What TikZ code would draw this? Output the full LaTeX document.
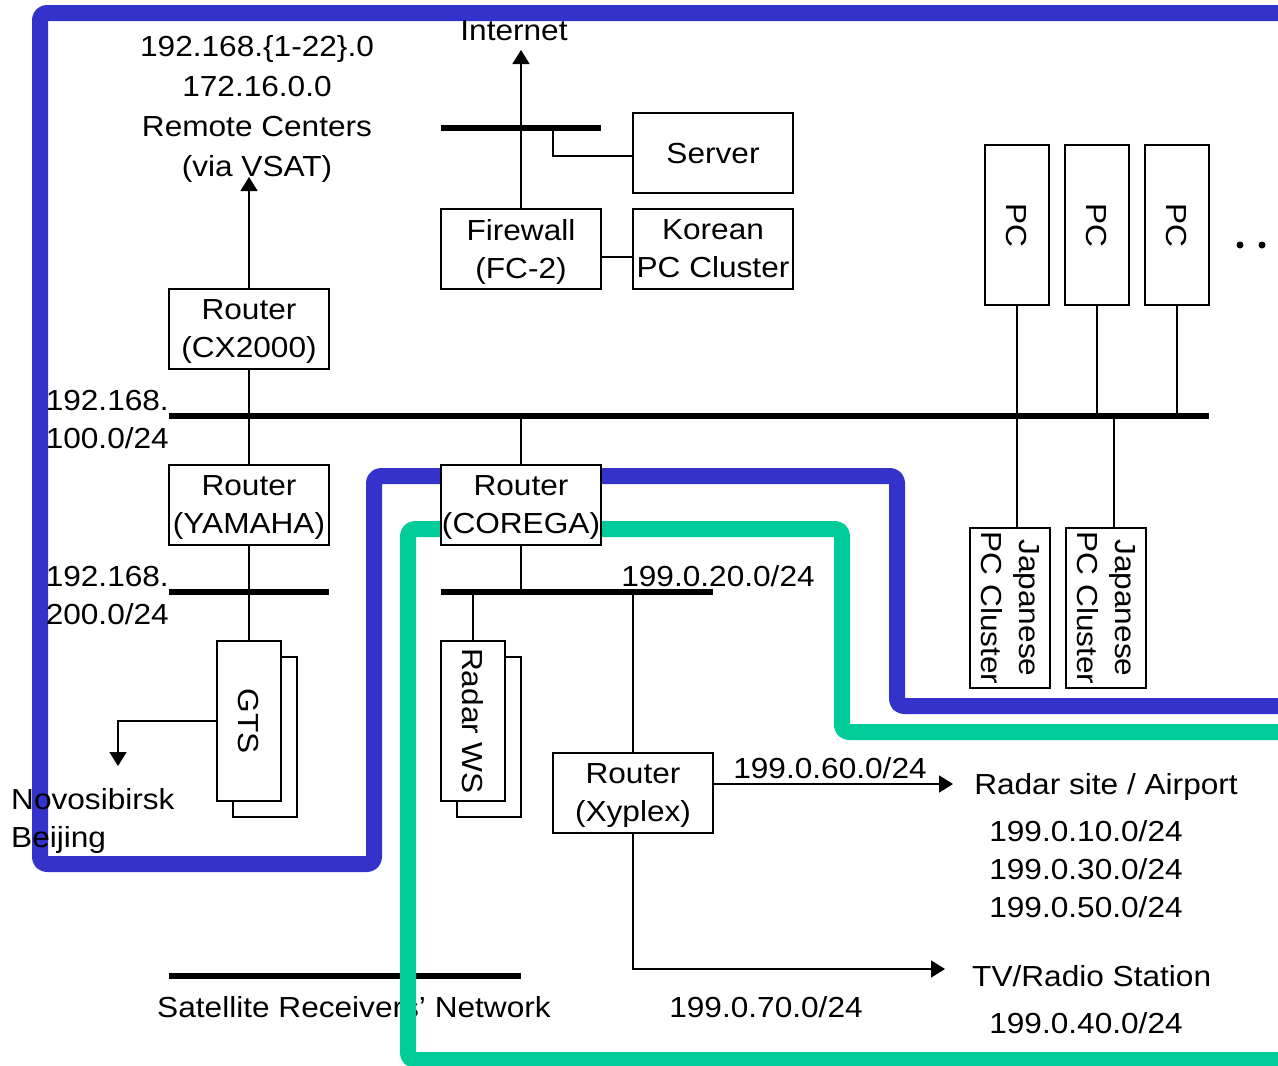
\documentclass[tikz,border=0pt]{standalone}
\usepackage{fontspec}
\setmainfont{Liberation Sans}[FakeStretch=1.09]
\usetikzlibrary{arrows.meta}
\definecolor{lanblue}{RGB}{51,51,204}
\definecolor{langreen}{RGB}{0,204,153}
\begin{document}
\begin{tikzpicture}[x=1pt,y=-1pt,
  font=\fontsize{29}{38}\selectfont,
  every node/.style={inner sep=0pt},
  box/.style={draw, line width=1.8pt, fill=white, inner sep=0pt, minimum width=160pt, minimum height=80pt, align=center, text depth=-7pt},
  vbox/.style={box, rotate=-90, minimum width=160pt, minimum height=64pt, text depth=0pt},
  bus/.style={line width=5.5pt},
  wire/.style={line width=1.6pt},
  arr/.style={wire, -{Triangle[width=17pt,length=14pt]}},
  lan/.style={line width=16pt, rounded corners=7pt, line join=round}]
\useasboundingbox (0,0) rectangle (1278,1066);
% satellite receivers' network (under the green line)
\coordinate (sb1) at (169,976);
\coordinate (sb2) at (521,976);
\draw[bus] (sb1) -- (sb2);
\node (sat) at (354,1007) {Satellite Receivers’ Network};
% LAN outlines
\draw[lan, lanblue] (1295,13) -- (40,13) -- (40,864) -- (374,864) -- (374,476) -- (897,476) -- (897,706) -- (1295,706);
\draw[lan, langreen] (1295,732) -- (842,732) -- (842,529) -- (408,529) -- (408,1060) -- (1295,1060);
% buses
\coordinate (ib1) at (441,128);
\coordinate (ib2) at (601,128);
\coordinate (mb1) at (169,416);
\coordinate (mb2) at (1209,416);
\coordinate (yb1) at (169,592);
\coordinate (yb2) at (329,592);
\coordinate (rb1) at (441,592);
\coordinate (rb2) at (713,592);
\draw[bus] (ib1) -- (ib2);
\draw[bus] (mb1) -- (mb2);
\draw[bus] (yb1) -- (yb2);
\draw[bus] (rb1) -- (rb2);
% boxes
\node[box] (cx) at (249,329) {Router\\(CX2000)};
\node[box] (yam) at (249,505) {Router\\(YAMAHA)};
\node[box] (cor) at (521,505) {Router\\(COREGA)};
\node[box] (fw) at (521,249) {Firewall\\(FC-2)};
\node[box] (srv) at (713,153) {Server};
\node[box] (kor) at (713,249) {Korean\\PC Cluster};
\node[box] (xyp) at (633,793) {Router\\(Xyplex)};
\node[vbox] (pc1) at (1017,225) {PC};
\node[vbox] (pc2) at (1097,225) {PC};
\node[vbox] (pc3) at (1177,225) {PC};
\node[vbox, minimum height=80pt] (jp1) at (1010,608) {Japanese\\PC Cluster};
\node[vbox, minimum height=80pt] (jp2) at (1106,608) {Japanese\\PC Cluster};
\node[vbox] (gtsb) at (265,737) {};
\node[vbox] (gts) at (249,721) {GTS};
\node[vbox] (rwsb) at (489,737) {};
\node[vbox] (rws) at (473,721) {Radar WS};
% arrow targets
\coordinate (inettip) at (521,50);
\coordinate (vsattip) at (249,177);
\coordinate (radartip) at (953,784);
\coordinate (tvtip) at (945,969);
\coordinate (nbtip) at (118,766);
% connectors
\draw[arr] (fw.north) -- (inettip);
\draw[wire] (553,128) |- ([yshift=-3pt]srv.west);
\draw[wire] ([yshift=-8pt]fw.east) -- ([yshift=-8pt]kor.west);
\draw[arr] (cx.north) -- (vsattip);
\draw[wire] (cx.south) -- (yam.north);
\draw[wire] (yam.south) -- (gts.west);
\draw[wire] (cor.north) -- (cor.north |- mb1);
\draw[wire] (cor.south) -- (cor.south |- rb1);
\draw[wire] (rws.west) -- (rws.west |- rb1);
\draw[wire] (xyp.north) -- (xyp.north |- rb1);
\draw[arr] ([yshift=9pt]xyp.east) -- (radartip);
\draw[arr] (xyp.south) |- (tvtip);
\draw[arr] (gts.south) -| (nbtip);
\draw[wire] (pc1.east) -- (pc1.east |- jp1.west);
\draw[wire] (pc2.east) -- (pc2.east |- mb1);
\draw[wire] (pc3.east) -- (pc3.east |- mb1);
\draw[wire] ([xshift=8pt]jp2.west) -- ([xshift=8pt]jp2.west |- mb1);
% dots
\fill (1240,245) circle (3.5pt);
\fill (1262,245) circle (3.5pt);
% labels
\node (inet) at (514,31) {Internet};
\node[align=center, font=\fontsize{29}{39.7}\selectfont] (rc) at (257,109) {192.168.\{1-22\}.0\\172.16.0.0\\Remote Centers\\(via VSAT)};
\node[align=right, anchor=east] (l100) at (169,420) {192.168.\\100.0/24};
\node[align=right, anchor=east] (l200) at (169,596) {192.168.\\200.0/24};
\node (l20) at (718,576) {199.0.20.0/24};
\node (l60) at (830,768) {199.0.60.0/24};
\node (radar) at (1106,787) {Radar site / Airport};
\node[align=center] (r10) at (1086,869) {199.0.10.0/24\\199.0.30.0/24\\199.0.50.0/24};
\node[anchor=west] (tv) at (972,976) {TV/Radio Station};
\node (l40) at (1086,1023) {199.0.40.0/24};
\node (l70) at (766,1007) {199.0.70.0/24};
\node[align=left, anchor=west] (nb) at (11,821) {Novosibirsk\\Beijing};
\end{tikzpicture}
\end{document}
